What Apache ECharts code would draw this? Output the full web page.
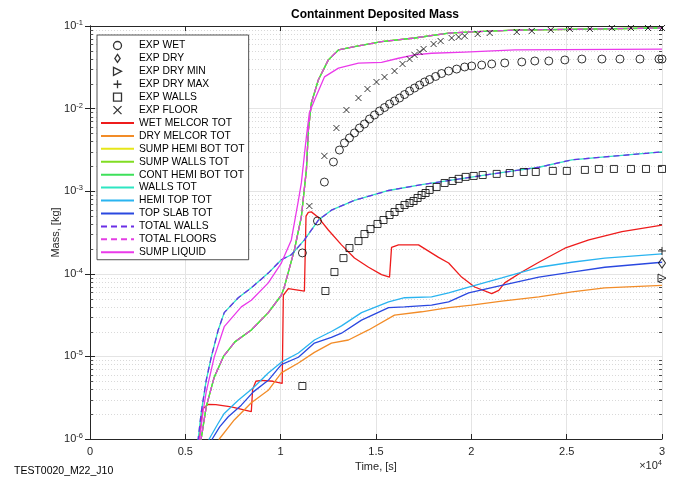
<!DOCTYPE html>
<html><head><meta charset="utf-8">
<script src="https://cdn.jsdelivr.net/npm/echarts@6/dist/echarts.min.js"></script>
<style>html,body{margin:0;padding:0;background:#fff}#c{width:676px;height:480px}</style>
</head><body><div id="c"></div>
<script>
// ---- data (time [s], mass [kg]) ----
const expWet = [[11140,1.79e-4],[11930,4.36e-4],[12294,1.29e-3],[12767,2.26e-3],[13082,3.15e-3],[13345,3.84e-3],[13608,4.41e-3],[13871,5.07e-3],[14133,5.82e-3],[14396,6.51e-3],[14659,7.48e-3],[14921,8.37e-3],[15184,9.35e-3],[15447,1.03e-2],[15709,1.138e-2],[15972,1.236e-2],[16235,1.343e-2],[16498,1.48e-2],[16760,1.633e-2],[17023,1.775e-2],[17286,1.93e-2],[17548,2.10e-2],[17811,2.25e-2],[18126,2.45e-2],[18441,2.66e-2],[18809,2.85e-2],[19230,3.01e-2],[19650,3.19e-2],[20018,3.28e-2],[20543,3.37e-2],[21069,3.47e-2],[21752,3.57e-2],[22645,3.67e-2],[23328,3.77e-2],[24063,3.77e-2],[24904,3.88e-2],[25797,3.98e-2],[26848,3.98e-2],[27794,3.98e-2],[28844,3.98e-2],[29843,3.98e-2],[30000,3.98e-2]];
const expDry = [[30000,1.35e-4]];
const expDryMin = [[30000,8.89e-5]];
const expDryMax = [[30000,1.89e-4]];
const expWalls = [[11138,4.38e-6],[12347,6.19e-5],[12820,1.05e-4],[13293,1.55e-4],[13608,2.05e-4],[14081,2.49e-4],[14396,3.03e-4],[14711,3.48e-4],[15079,4.01e-4],[15394,4.48e-4],[15709,5.15e-4],[15972,5.60e-4],[16235,6.26e-4],[16498,6.81e-4],[16760,7.20e-4],[16970,7.61e-4],[17181,8.28e-4],[17391,8.99e-4],[17601,9.51e-4],[17811,1.035e-3],[18179,1.125e-3],[18599,1.257e-3],[19019,1.33e-3],[19335,1.41e-3],[19703,1.49e-3],[20123,1.53e-3],[20596,1.57e-3],[21331,1.62e-3],[22014,1.66e-3],[22750,1.71e-3],[23380,1.71e-3],[24273,1.76e-3],[25009,1.76e-3],[25955,1.81e-3],[26690,1.86e-3],[27478,1.86e-3],[28372,1.86e-3],[29160,1.86e-3],[30000,1.86e-3]];
const expFloor = [[11506,6.62e-4],[12294,2.67e-3],[12925,5.82e-3],[13450,9.62e-3],[14081,1.343e-2],[14554,1.726e-2],[15026,2.10e-2],[15447,2.41e-2],[15972,2.85e-2],[16392,3.47e-2],[16760,3.98e-2],[17023,4.46e-2],[17286,4.84e-2],[17496,5.27e-2],[18021,6.05e-2],[18389,6.58e-2],[18967,7.16e-2],[19335,7.36e-2],[19650,7.57e-2],[20333,8.0e-2],[20963,8.23e-2],[22382,8.46e-2],[23170,8.70e-2],[24168,8.95e-2],[25167,9.2e-2],[26217,9.2e-2],[27373,9.46e-2],[28372,9.46e-2],[29265,9.46e-2],[30000,9.46e-2]];

const wetMelcor = [[5650,7e-7],[5730,1.0e-6],[5900,2.3e-6],[6200,2.63e-6],[6600,2.6e-6],[7410,2.45e-6],[8460,2.14e-6],[8530,4.0e-6],[8700,5.0e-6],[9000,5.13e-6],[9600,5.0e-6],[10080,4.7e-6],[10140,5.5e-5],[10400,6.61e-5],[11245,6.17e-5],[11330,5.0e-4],[11450,5.55e-4],[11610,5.62e-4],[11980,4.79e-4],[12500,3.39e-4],[13190,2.24e-4],[13870,1.55e-4],[14610,1.20e-4],[15290,9.77e-5],[15710,9.12e-5],[15815,2.09e-4],[16180,2.24e-4],[17230,2.24e-4],[18280,1.58e-4],[18810,1.35e-4],[19490,9.12e-5],[20175,6.92e-5],[21070,5.75e-5],[21440,6.31e-5],[21750,7.76e-5],[22645,1.05e-4],[23540,1.38e-4],[24905,2.04e-4],[26165,2.57e-4],[27900,3.24e-4],[30000,3.89e-4]];
const dryMelcor = [[6700,7e-7],[6780,1.0e-6],[7565,1.70e-6],[8460,2.75e-6],[9350,3.89e-6],[10035,6.31e-6],[10930,8.32e-6],[11770,1.12e-5],[12660,1.45e-5],[13555,1.58e-5],[14610,2.09e-5],[15970,3.16e-5],[17390,3.47e-5],[18810,3.89e-5],[20020,4.17e-5],[21595,4.68e-5],[23540,5.25e-5],[25270,6.03e-5],[27000,6.76e-5],[30000,7.24e-5]];
const floorsTot = [[5760,7e-7],[5830,1.0e-6],[6095,2.45e-6],[6515,5.6e-6],[7000,1.0e-5],[7600,1.5e-5],[8460,2.09e-5],[9350,3.39e-5],[10035,5.5e-5],[10190,6.9e-5],[10720,1.95e-4],[11085,4.9e-4],[11350,1.82e-3],[11455,5.5e-3],[11610,1.17e-2],[11980,2.24e-2],[12500,3.89e-2],[13030,5.13e-2],[13870,5.62e-2],[15290,6.46e-2],[17020,7.16e-2],[18810,8.22e-2],[20020,8.51e-2],[22280,8.91e-2],[30000,9.46e-2]];
const wallsTot = [[5600,7e-7],[5675,1.0e-6],[5830,2.07e-6],[6095,5.13e-6],[6360,9.8e-6],[6725,2.09e-5],[7040,3.39e-5],[7775,5.13e-5],[8460,6.76e-5],[9350,1.02e-4],[10035,1.48e-4],[10560,1.70e-4],[11245,2.57e-4],[11980,4.47e-4],[12660,5.89e-4],[13870,7.76e-4],[15660,1.02e-3],[17390,1.20e-3],[19125,1.38e-3],[21750,1.70e-3],[23540,1.95e-3],[25270,2.40e-3],[27000,2.60e-3],[30000,2.99e-3]];
const hemiTop = [[6150,7e-7],[6250,1.0e-6],[6725,1.55e-6],[7040,2.04e-6],[7775,2.95e-6],[8565,4.17e-6],[9350,6.31e-6],[10035,8.51e-6],[10930,1.10e-5],[11770,1.58e-5],[12660,2.0e-5],[13190,2.34e-5],[14240,3.39e-5],[15660,4.57e-5],[16500,5.13e-5],[17915,5.25e-5],[18810,5.89e-5],[19860,6.92e-5],[21595,8.91e-5],[23540,1.20e-4],[25270,1.38e-4],[27000,1.55e-4],[30000,1.74e-4]];
const topSlab = [[6300,7e-7],[6410,1.0e-6],[6800,1.4e-6],[7250,1.86e-6],[7935,2.57e-6],[8565,3.72e-6],[9350,5.13e-6],[10035,7.94e-6],[10930,9.77e-6],[11770,1.45e-5],[12660,1.70e-5],[13190,1.91e-5],[14240,2.75e-5],[15660,3.89e-5],[16500,3.98e-5],[17915,4.17e-5],[18810,4.57e-5],[19860,5.89e-5],[21595,7.24e-5],[23540,9.12e-5],[25270,1.05e-4],[27000,1.20e-4],[30000,1.38e-4]];
const sumpLiquid = [[5680,7e-7],[5750,1.0e-6],[5940,2.24e-6],[6095,3.72e-6],[6515,9.8e-6],[7040,2.29e-5],[7935,3.98e-5],[8460,4.79e-5],[9350,7.76e-5],[10035,1.35e-4],[10560,2.57e-4],[10930,7.76e-4],[11085,1.26e-3],[11350,4.57e-3],[11505,8.9e-3],[11770,1.26e-2],[12295,2.42e-2],[13030,3.09e-2],[14080,3.55e-2],[15290,3.63e-2],[16180,4.07e-2],[17020,4.47e-2],[17915,4.68e-2],[19650,4.84e-2],[22280,5.13e-2],[30000,5.25e-2]];

const xTicks = [0, 5000, 10000, 15000, 20000, 25000, 30000];
const yMin = 1e-6, yMax = 1e-1;

// minor log ticks (axis decoration)
const minorVals = [];
for (let e = -6; e < -1; e++) for (let m = 2; m <= 9; m++) minorVals.push(+(m * Math.pow(10, e)).toPrecision(3));

const FONT = '"Liberation Sans", Arial, Helvetica, sans-serif';
const AX = '#262626';

const chart = echarts.init(document.getElementById('c'), null, {renderer: 'canvas'});

function lineS(name, data, color, dashed) {
  return {name, type: 'line', data, symbol: 'none', showSymbol: false, xAxisIndex: 0, yAxisIndex: 0,
    lineStyle: {color, width: 1.3, type: dashed ? [6, 4] : 'solid'},
    itemStyle: {color: 'transparent', borderColor: 'transparent', borderWidth: 0}, z: 3, animation: false};
}
function scatS(name, data, symbol, size) {
  return {name, type: 'scatter', data, symbol, symbolSize: size, clip: false, xAxisIndex: 0, yAxisIndex: 0,
    itemStyle: {color: 'transparent', borderColor: '#000', borderWidth: 1}, z: 4, animation: false};
}

const supRich = {
  b: {fontSize: 11, fontFamily: FONT, color: AX, lineHeight: 14},
  s: {fontSize: 7.5, fontFamily: FONT, color: AX, lineHeight: 14, verticalAlign: 'top'}
};

const option = {
  backgroundColor: '#fff',
  animation: false,
  grid: {left: 90, right: 14, top: 26, bottom: 41, containLabel: false},
  graphic: [
    {type: 'text', x: 375, y: 15, style: {text: 'Containment Deposited Mass', font: 'bold 12px ' + FONT, fill: '#000', textAlign: 'center', textVerticalAlign: 'middle'}},
    {type: 'text', x: 662, y: 466, style: {text: '{m|×10}{s|4}', rich: {m: {fontSize: 11, fontFamily: FONT, fill: AX, lineHeight: 14}, s: {fontSize: 7.5, fontFamily: FONT, fill: AX, lineHeight: 14, verticalAlign: 'top'}}, textAlign: 'right', textVerticalAlign: 'middle'}},
    {type: 'text', x: 14, y: 471, style: {text: 'TEST0020_M22_J10', font: '10.5px ' + FONT, fill: '#000', textVerticalAlign: 'middle'}}
  ],
  legend: {
    orient: 'vertical', left: 97, top: 35, itemWidth: 33, itemHeight: 8, itemGap: 1.92,
    padding: [5, 4, 2, 3], backgroundColor: '#fff', borderColor: AX, borderWidth: 0.8, borderRadius: 0,
    textStyle: {fontSize: 10.3, fontFamily: FONT, color: '#000', lineHeight: 11},
    itemStyle: {borderWidth: 1.3, borderColor: 'inherit'},
    data: ['EXP WET', 'EXP DRY', 'EXP DRY MIN', 'EXP DRY MAX', 'EXP WALLS', 'EXP FLOOR', 'WET MELCOR TOT', 'DRY MELCOR TOT', 'SUMP HEMI BOT TOT', 'SUMP WALLS TOT', 'CONT HEMI BOT TOT', 'WALLS TOT', 'HEMI TOP TOT', 'TOP SLAB TOT', 'TOTAL WALLS', 'TOTAL FLOORS', 'SUMP LIQUID'],
    selectedMode: false, z: 10
  },
  xAxis: [
    {type: 'value', min: 0, max: 30000, interval: 5000, position: 'bottom',
      name: 'Time, [s]', nameLocation: 'middle', nameGap: 21,
      nameTextStyle: {fontSize: 11, fontFamily: FONT, color: AX},
      axisLine: {show: true, lineStyle: {color: AX, width: 1}},
      axisTick: {show: true, inside: true, length: 5, lineStyle: {color: AX}},
      axisLabel: {margin: 7, fontSize: 11, fontFamily: FONT, color: AX, formatter: v => String(v / 10000)},
      splitLine: {show: true, lineStyle: {color: '#e4e4e4', width: 1}}},
    {type: 'value', min: 0, max: 30000, interval: 5000, position: 'top',
      axisLine: {show: true, lineStyle: {color: AX, width: 1}},
      axisTick: {show: true, inside: true, length: 5, lineStyle: {color: AX}},
      axisLabel: {show: false}, splitLine: {show: false}}
  ],
  yAxis: [
    {type: 'log', logBase: 10, min: yMin, max: yMax, splitNumber: 5, position: 'left',
      name: 'Mass, [kg]', nameLocation: 'middle', nameGap: 29, nameMoveOverlap: false,
      nameTextStyle: {fontSize: 11, fontFamily: FONT, color: AX},
      axisLine: {show: true, lineStyle: {color: AX, width: 1}},
      axisTick: {show: true, inside: true, length: 5, lineStyle: {color: AX}},
      axisLabel: {margin: 7, formatter: v => '{b|10}{s|' + Math.round(Math.log10(v)) + '}', rich: supRich},
      splitLine: {show: true, lineStyle: {color: '#e4e4e4', width: 1}}},
    {type: 'log', logBase: 10, min: yMin, max: yMax, splitNumber: 5, position: 'right',
      axisLine: {show: true, lineStyle: {color: AX, width: 1}},
      axisTick: {show: true, inside: true, length: 5, lineStyle: {color: AX}},
      axisLabel: {show: false}, splitLine: {show: false}}
  ],
  series: [
    {name: 'minor', type: 'custom', silent: true, z: 1, clip: false, xAxisIndex: 0, yAxisIndex: 0,
      data: minorVals.map(v => [0, v]),
      renderItem: (params, api) => {
        const cs = params.coordSys;
        const y = Math.round(api.coord([0, api.value(1)])[1]) + 0.5;
        return {type: 'group', children: [
          {type: 'line', shape: {x1: cs.x, y1: y, x2: cs.x + cs.width, y2: y}, style: {stroke: '#cfcfcf', lineWidth: 0.8, lineDash: [1, 2]}},
          {type: 'line', shape: {x1: cs.x, y1: y, x2: cs.x + 3, y2: y}, style: {stroke: AX, lineWidth: 0.8}},
          {type: 'line', shape: {x1: cs.x + cs.width - 3, y1: y, x2: cs.x + cs.width, y2: y}, style: {stroke: AX, lineWidth: 0.8}}
        ]};
      }},
    scatS('EXP WET', expWet, 'circle', 8),
    scatS('EXP DRY', expDry, 'path://M4,0L8,6L4,12L0,6Z', [7, 10]),
    scatS('EXP DRY MIN', expDryMin, 'path://M0,0L10,5L0,10Z', 8),
    scatS('EXP DRY MAX', expDryMax, 'path://M5,0L5,10M0,5L10,5', 8),
    scatS('EXP WALLS', expWalls, 'path://M0,0L10,0L10,10L0,10Z', 7),
    scatS('EXP FLOOR', expFloor, 'path://M0,0L10,10M0,10L10,0', 6),
    lineS('WET MELCOR TOT', wetMelcor, '#ee1c1c'),
    lineS('DRY MELCOR TOT', dryMelcor, '#f28c28'),
    lineS('SUMP HEMI BOT TOT', floorsTot, '#e6e619'),
    lineS('SUMP WALLS TOT', floorsTot, '#80dd22'),
    lineS('CONT HEMI BOT TOT', floorsTot, '#3ee05a'),
    lineS('WALLS TOT', wallsTot, '#2ee6c2'),
    lineS('HEMI TOP TOT', hemiTop, '#2ab4f0'),
    lineS('TOP SLAB TOT', topSlab, '#2a48e0'),
    lineS('TOTAL WALLS', wallsTot, '#6a2ee6', true),
    lineS('TOTAL FLOORS', floorsTot, '#e43ee4', true),
    lineS('SUMP LIQUID', sumpLiquid, '#ea3aea')
  ]
};
chart.setOption(option);
</script>
</body></html>
